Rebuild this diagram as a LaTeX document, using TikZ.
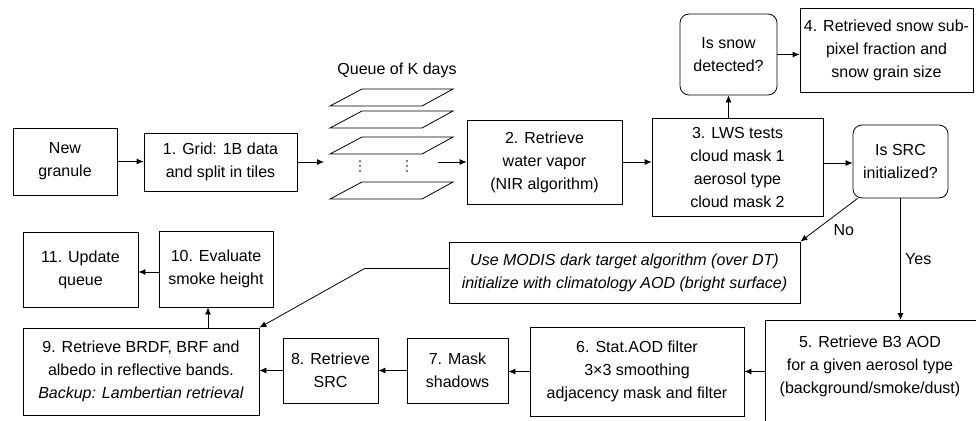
\documentclass[tikz,border=0pt]{standalone}
\usepackage{fontspec}
\setmainfont{Liberation Sans}
\usetikzlibrary{arrows.meta}

\begin{document}
\begin{tikzpicture}[x=1pt, y=-1pt, line width=0.8pt,
  txt/.style={font=\fontsize{16}{23}\selectfont},
  box/.style={draw, rectangle, align=center, inner sep=1pt, txt},
  ask/.style={box, rounded corners=9pt},
  arr/.style={-{Latex[length=7pt,width=6pt]}}]
\useasboundingbox (0,0) rectangle (976,420);

% top row
\node[box, minimum width=104, minimum height=67] (granule) at (65,161.5) {New\\granule};
\node[box, minimum width=153, minimum height=58] (grid) at (220.5,162) {1. Grid: 1B data\\and split in tiles};

\node[txt] (qlabel) at (397,70) {Queue of K days};
\foreach \t in {89,111,137,182} {
\draw (330,\t+17) -- (422,\t+17) -- (453,\t) -- (362,\t) -- cycle;
}
\foreach \x in {360,407} {
\foreach \d in {161,166,171} \fill (\x,\d) circle (0.8);
}
\coordinate (qin) at (324,162);
\coordinate (qout) at (438,162);

\node[box, minimum width=155, minimum height=84] (vapor) at (544.5,162) {2. Retrieve\\water vapor\\(NIR algorithm)};
\node[box, minimum width=171, minimum height=98] (lws) at (737.5,167) {3. LWS tests\\cloud mask 1\\aerosol type\\cloud mask 2};
\node[ask, minimum width=97, minimum height=81] (snow) at (728.5,54.5) {Is snow\\detected?};
\node[box, minimum width=173, minimum height=84] (frac) at (886.5,50) {4. Retrieved snow sub-\\pixel fraction and\\snow grain size};
\node[ask, minimum width=95, minimum height=73] (src) at (900.5,161.5) {Is SRC\\initialized?};

% middle row
\node[box, minimum width=115, minimum height=75] (update) at (80.5,269.5) {11. Update\\queue};
\node[box, minimum width=114, minimum height=76] (smoke) at (216,269) {10. Evaluate\\smoke height};
\node[box, minimum width=351, minimum height=61, font=\fontsize{16}{23}\selectfont\itshape] (dt) at (624.5,272.5) {Use MODIS dark target algorithm (over DT)\\initialize with climatology AOD (bright surface)};

% bottom row
\node[box, minimum width=236, minimum height=87] (brdf) at (141,371.5) {9. Retrieve BRDF, BRF and\\albedo in reflective bands.\\\textit{Backup: Lambertian retrieval}};
\node[box, minimum width=95, minimum height=65] (srcret) at (330.5,370.5) {8. Retrieve\\SRC};
\node[box, minimum width=101, minimum height=65] (shadows) at (457.5,370.5) {7. Mask\\shadows};
\node[box, minimum width=214, minimum height=89] (filter) at (637,371.5) {6. Stat.AOD filter\\3×3 smoothing\\adjacency mask and filter};
\node[box, minimum width=225, minimum height=115, anchor=north west] (aod) at (765,320) {};
\node[txt, align=center] (aodtxt) at (870,366) {5. Retrieve B3 AOD\\for a given aerosol type\\(background/smoke/dust)};

% connectors
\draw[arr] (granule.east) -- (granule.east -| grid.west);
\draw[arr] (grid.east) -- (grid.east -| qin);
\draw[arr] (qout) -- (qout -| vapor.west);
\draw[arr] (vapor.east) -- (vapor.east -| lws.west);
\draw[arr] (lws.north -| snow.south) -- (snow.south);
\draw[arr] (snow.east) -- (snow.east -| frac.west);
\draw[arr] (lws.east |- 0,163) -- (src.west |- 0,163);
\draw[arr] ([xshift=5pt]src.south west) -- (dt.north east) node[txt, pos=0.73, anchor=west, xshift=14pt] {No};
\draw[arr] (src.south) -- (src.south |- aod.north) node[txt, midway, anchor=west, xshift=1pt] {Yes};
\draw[arr] (filter.east -| aod.west) -- (filter.east);
\draw[arr] (filter.west) -- (filter.west -| shadows.east);
\draw[arr] (shadows.west) -- (shadows.west -| srcret.east);
\draw[arr] (srcret.west) -- (srcret.west -| brdf.east);
\draw[arr] ([xshift=-8pt]smoke.south |- brdf.north) -- ([xshift=-8pt]smoke.south);
\draw[arr] ([yshift=-3pt]smoke.west) -- ([yshift=-3pt]smoke.west -| update.east);
\draw[arr] ([yshift=4pt]dt.west) -- ++(-84,0) -- (brdf.north east);
\end{tikzpicture}
\end{document}
